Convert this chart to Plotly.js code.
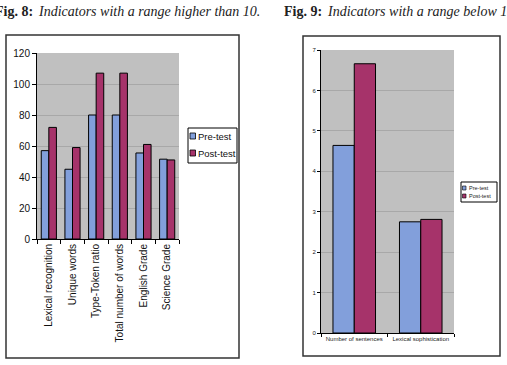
<!DOCTYPE html>
<html>
<head>
<meta charset="utf-8">
<script src="https://cdn.plot.ly/plotly-3.0.1.min.js"></script>
<style>html,body{margin:0;padding:0;background:#fff;}#chart{width:507px;height:365px;}</style>
</head>
<body>
<div id="chart"></div>
<script>
// Fig. 8 data
const cats8 = ["Lexical recognition", "Unique words", "Type-Token ratio", "Total number of words", "English Grade", "Science Grade"];
const pre8 = [57, 45, 80, 80, 55.5, 51.5];
const post8 = [72, 59, 107, 107, 61, 51];
// Fig. 9 data
const cats9 = ["Number of sentences", "Lexical sophistication"];
const pre9 = [4.64, 2.75];
const post9 = [6.66, 2.81];
const seriesNames = ["Pre-test", "Post-test"];
const figLabels = ["Fig. 8:", "Fig. 9:"];
const figTitles = ["Indicators with a range higher than 10.", "Indicators with a range below 10."];

const blue = "#829FDB";
const red = "#A6336A";
const colors = [blue, red];
const W = 507, H = 365;
const px = v => v / W;
const py = v => (H - v) / H;
const sans = "Liberation Sans, Arial, sans-serif";
const serif = "Liberation Serif, Times New Roman, serif";

const traces = [
  {type: "bar", x: cats8, y: pre8, name: seriesNames[0], xaxis: "x", yaxis: "y",
   marker: {color: blue, line: {color: "#000", width: 1}}},
  {type: "bar", x: cats8, y: post8, name: seriesNames[1], xaxis: "x", yaxis: "y",
   marker: {color: red, line: {color: "#000", width: 1}}},
  {type: "bar", x: cats9, y: pre9, name: seriesNames[0], xaxis: "x2", yaxis: "y2",
   marker: {color: blue, line: {color: "#000", width: 1}}},
  {type: "bar", x: cats9, y: post9, name: seriesNames[1], xaxis: "x2", yaxis: "y2",
   marker: {color: red, line: {color: "#000", width: 1}}}
];

const shapes = [
  {type: "rect", xref: "paper", yref: "paper", x0: px(6), x1: px(239), y0: py(358), y1: py(35),
   line: {color: "#333", width: 1.5}, fillcolor: "rgba(0,0,0,0)", layer: "below"},
  {type: "rect", xref: "paper", yref: "paper", x0: px(303), x1: px(500), y0: py(356), y1: py(36),
   line: {color: "#333", width: 1.5}, fillcolor: "rgba(0,0,0,0)", layer: "below"},
  {type: "rect", xref: "paper", yref: "paper", x0: px(188), x1: px(237), y0: py(163), y1: py(128),
   line: {color: "#000", width: 1}, fillcolor: "#fff"},
  {type: "rect", xref: "paper", yref: "paper", x0: px(461), x1: px(497), y0: py(202), y1: py(182),
   line: {color: "#000", width: 1}, fillcolor: "#fff"}
];
const annotations = [];
const capX = [[35, 36], [324, 325]];
figLabels.forEach((f, i) => {
  annotations.push({xref: "paper", yref: "paper", x: px(capX[i][0]), y: py(12), xanchor: "right",
    yanchor: "middle", showarrow: false, text: "<b>" + f + "</b>",
    font: {family: serif, size: 14, color: "#222"}});
  annotations.push({xref: "paper", yref: "paper", x: px(capX[i][1]), y: py(12), xanchor: "left",
    yanchor: "middle", showarrow: false, text: "<i>" + figTitles[i] + "</i>",
    font: {family: serif, size: 14, color: "#222"}});
});
const leg1Rows = [136, 153], leg2Rows = [188, 196];
seriesNames.forEach((n, i) => {
  shapes.push({type: "rect", xref: "paper", yref: "paper", x0: px(190), x1: px(195.5),
    y0: py(leg1Rows[i] + 3), y1: py(leg1Rows[i] - 3), fillcolor: colors[i], line: {color: "#000", width: 0.8}});
  annotations.push({xref: "paper", yref: "paper", x: px(196), y: py(leg1Rows[i]), xanchor: "left",
    yanchor: "middle", showarrow: false, text: n, font: {family: sans, size: 9.5, color: "#111"}});
  shapes.push({type: "rect", xref: "paper", yref: "paper", x0: px(462.5), x1: px(466),
    y0: py(leg2Rows[i] + 2), y1: py(leg2Rows[i] - 2), fillcolor: colors[i], line: {color: "#000", width: 0.6}});
  annotations.push({xref: "paper", yref: "paper", x: px(467), y: py(leg2Rows[i]), xanchor: "left",
    yanchor: "middle", showarrow: false, text: n, font: {family: sans, size: 5.5, color: "#222"}});
});

const layout = {
  width: W, height: H,
  margin: {l: 0, r: 0, t: 0, b: 0},
  paper_bgcolor: "#fff",
  font: {family: sans, color: "#111"},
  barmode: "group",
  showlegend: false,
  xaxis: {domain: [px(37), px(179)], anchor: "y", type: "category",
    showline: true, linecolor: "#000", linewidth: 1, ticks: "outside", tickson: "boundaries",
    ticklen: 4, tickcolor: "#000", tickangle: -90, tickfont: {size: 10, color: "#111"},
    showgrid: false, automargin: false},
  yaxis: {domain: [py(239), py(53)], anchor: "x", range: [0, 120], dtick: 20,
    showline: true, linecolor: "#000", linewidth: 1, ticks: "outside", ticklen: 4, tickcolor: "#000",
    tickfont: {size: 10, color: "#111"}, gridcolor: "#a8a8a8", gridwidth: 1,
    zeroline: false, automargin: false},
  xaxis2: {domain: [px(321), px(454)], anchor: "y2", type: "category",
    showline: true, linecolor: "#000", linewidth: 1, ticks: "outside", tickson: "boundaries",
    ticklen: 3, tickcolor: "#000", tickangle: 0, tickfont: {size: 6, color: "#222"}, showgrid: false,
    automargin: false},
  yaxis2: {domain: [py(333), py(50)], anchor: "x2", range: [0, 7], dtick: 1,
    showline: true, linecolor: "#000", linewidth: 1, ticks: "outside", ticklen: 3, tickcolor: "#000",
    tickfont: {size: 6, color: "#222"}, gridcolor: "#a8a8a8", gridwidth: 1, zeroline: false,
    automargin: false},
  bargap: 0.36,
  bargroupgap: 0,
  plot_bgcolor: "#c0c0c0",
  shapes: shapes,
  annotations: annotations
};

Plotly.newPlot("chart", traces, layout, {staticPlot: true, displayModeBar: false});
</script>
</body>
</html>
